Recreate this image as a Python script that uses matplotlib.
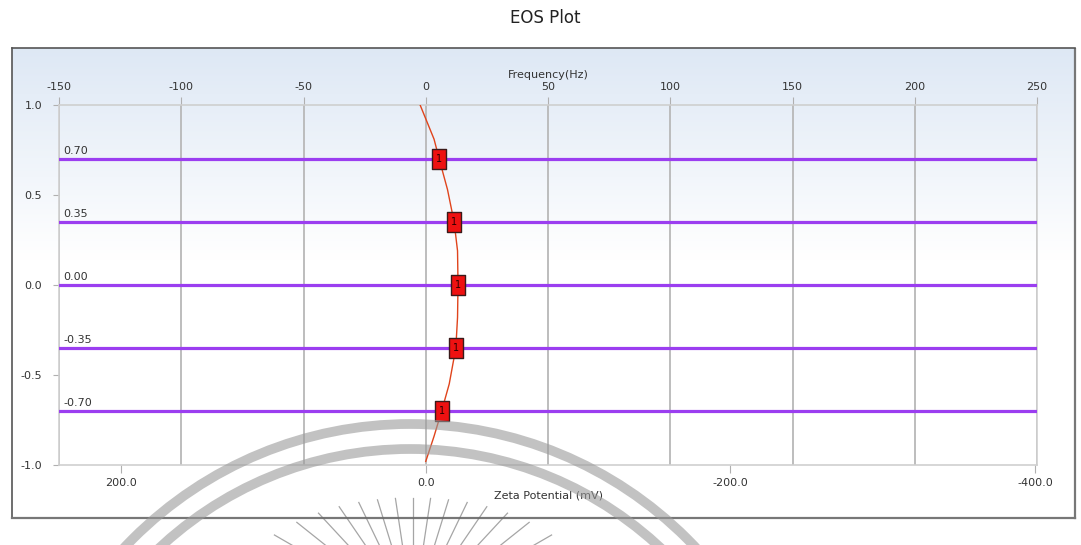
import numpy as np
import matplotlib
matplotlib.use("Agg")
import matplotlib.pyplot as plt
from matplotlib.path import Path
from matplotlib.patches import Arc

# ---- data ----
level_values = [0.70, 0.35, 0.00, -0.35, -0.70]
level_labels = ["0.70", "0.35", "0.00", "-0.35", "-0.70"]

# EOS curve (frequency in Hz vs normalized level)
curve_level = [1.0, 0.90, 0.81, 0.70, 0.53, 0.35, 0.19, 0.00, -0.18, -0.35, -0.55, -0.70, -0.84, -0.98]
curve_freq = [-2.3, 0.7, 3.4, 5.5, 8.9, 11.6, 13.0, 13.2, 13.0, 12.3, 9.6, 6.5, 3.4, 0.0]

# measured points on each level
point_freq = [5.5, 11.6, 13.2, 12.3, 6.5]
point_level = [0.70, 0.35, 0.00, -0.35, -0.70]
point_tag = ["1", "1", "1", "1", "1"]

freq_ticks = [-150, -100, -50, 0, 50, 100, 150, 200, 250]
level_ticks = [1.0, 0.5, 0.0, -0.5, -1.0]
zeta_ticks = [200.0, 0.0, -200.0, -400.0]
zeta_per_hz = -1.605

W, H = 1081, 545
fig = plt.figure(figsize=(W / 100, H / 100), dpi=100)
fig.patch.set_facecolor("white")

def fx(px):
    return px / W

def fy(py):
    return 1 - py / H

# ---- panel background with soft gradient ----
px0, py0, px1, py1 = 12, 48, 1075, 518
bg = fig.add_axes([fx(px0), fy(py1), fx(px1 - px0), fy(py0) - fy(py1)], zorder=0)
grad = np.linspace(0, 1, 256)[:, None]
top_col = np.array([0.87, 0.91, 0.96])
bot_col = np.array([1.0, 1.0, 1.0])
t = np.clip(grad / 0.45, 0, 1)
img = top_col * (1 - t[..., None]) + bot_col * t[..., None]
img = np.repeat(img, 4, axis=1)
bg.imshow(img, aspect="auto", extent=[0, 1, 0, 1], origin="upper")
bg.set_xlim(0, 1)
bg.set_ylim(0, 1)
bg.set_xticks([])
bg.set_yticks([])
for side in ["top", "left"]:
    bg.spines[side].set_color("#555555")
    bg.spines[side].set_linewidth(1.2)
for side in ["bottom", "right"]:
    bg.spines[side].set_color("#777777")
    bg.spines[side].set_linewidth(1.6)
    bg.spines[side].set_linestyle((0, (1, 1)))

# ---- main plot ----
ax_l, ax_r, ax_t, ax_b = 59, 1037, 105, 465
ax = fig.add_axes([fx(ax_l), fy(ax_b), fx(ax_r - ax_l), fy(ax_t) - fy(ax_b)], zorder=2)
ax.set_facecolor("none")
ax.set_xlim(-150, 250)
ax.set_ylim(-1.0, 1.0)

ax.xaxis.tick_top()
ax.xaxis.set_label_position("top")
ax.set_xticks(freq_ticks)
ax.set_xticklabels([str(v) for v in freq_ticks])
ax.set_xlabel("Frequency(Hz)", fontsize=8, color="#333333", labelpad=3)
ax.tick_params(axis="x", top=True, bottom=False, length=6, color="#b0b0b0",
               labelsize=8, labelcolor="#333333", pad=3)
ax.set_yticks(level_ticks)
ax.set_yticklabels([f"{v:.1f}" for v in level_ticks])
ax.tick_params(axis="y", length=4, color="#b0b0b0", labelsize=8,
               labelcolor="#333333", pad=8)
ax.grid(axis="x", color="#b8b8b8", linewidth=1.3)
for s in ax.spines.values():
    s.set_color("#cfcfcf")
    s.set_linewidth(1.2)

# zeta potential axis along the bottom
sec = ax.secondary_xaxis("bottom", functions=(lambda f: f * zeta_per_hz,
                                              lambda z: z / zeta_per_hz))
sec.set_xticks(zeta_ticks)
sec.set_xticklabels([f"{v:.1f}" for v in zeta_ticks])
sec.tick_params(length=6, color="#b0b0b0", labelsize=8, labelcolor="#333333", pad=3)
sec.set_xlabel("Zeta Potential (mV)", fontsize=8, color="#333333", labelpad=2)
sec.spines["bottom"].set_visible(False)

# horizontal level lines with labels
for val, lab in zip(level_values, level_labels):
    ax.axhline(val, color="#9b3ef0", linewidth=2.3, zorder=3)
    ax.annotate(lab, xy=(-150, val), xytext=(3, 2), textcoords="offset points",
                fontsize=8, color="#333333", ha="left", va="bottom", zorder=4)

# EOS curve
ax.plot(curve_freq, curve_level, color="#e0441c", linewidth=1.0, zorder=5,
        solid_joinstyle="round")

# rectangular point markers with tag text
rect_marker = Path([(-0.37, -0.5), (0.37, -0.5), (0.37, 0.5), (-0.37, 0.5), (-0.37, -0.5)],
                   [Path.MOVETO, Path.LINETO, Path.LINETO, Path.LINETO, Path.CLOSEPOLY])
ax.plot(point_freq, point_level, linestyle="none", marker=rect_marker, markersize=14.5,
        markerfacecolor="#ee1111", markeredgecolor="#3a1a1a", markeredgewidth=1.0, zorder=6)
for xv, yv, tag in zip(point_freq, point_level, point_tag):
    ax.text(xv, yv, tag, fontsize=7, color="#2a0000", ha="center", va="center", zorder=7)

# title
fig.text(fx(545), fy(18), "EOS Plot", fontsize=12, color="#222222", ha="center", va="center")

# ---- faint seal overlay ----
ov = fig.add_axes([0, 0, 1, 1], zorder=10)
ov.set_xlim(0, W)
ov.set_ylim(H, 0)
ov.axis("off")
ov.patch.set_alpha(0)
cx, cy = 410, 816
for r in (392, 367):
    ov.add_patch(Arc((cx, cy), 2 * r, 2 * r, theta1=180, theta2=360, color="#9a9a9a",
                     linewidth=7.0, alpha=0.6))
rx, ry = 413, 615
for ang in np.linspace(-60, 60, 15):
    a = np.deg2rad(ang)
    r_tip = 117 + 43 * (ang / 60) ** 2
    r_end = 20
    ov.plot([rx + r_tip * np.sin(a), rx + r_end * np.sin(a)],
            [ry - r_tip * np.cos(a), ry - r_end * np.cos(a)],
            color="#6a6a6a", linewidth=0.9, alpha=0.6)

fig.savefig("out.png", dpi=100)
